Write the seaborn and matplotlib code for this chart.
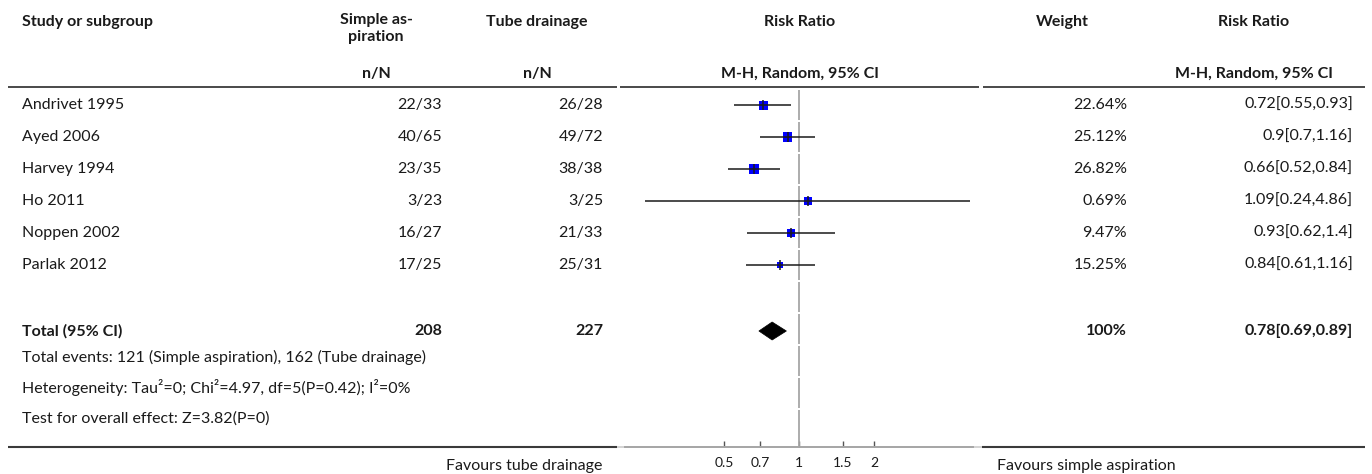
import matplotlib
matplotlib.use("Agg")
import matplotlib.pyplot as plt
from matplotlib.patches import Polygon
from matplotlib.ticker import FixedLocator, FixedFormatter, NullLocator
import pandas as pd
import seaborn as sns

# ---- study data -------------------------------------------------------------
studies = ["Andrivet 1995", "Ayed 2006", "Harvey 1994", "Ho 2011", "Noppen 2002", "Parlak 2012"]
aspiration_events = ["22/33", "40/65", "23/35", "3/23", "16/27", "17/25"]
drainage_events = ["26/28", "49/72", "38/38", "3/25", "21/33", "25/31"]
risk_ratio = [0.72, 0.9, 0.66, 1.09, 0.93, 0.84]
ci_low = [0.55, 0.7, 0.52, 0.24, 0.62, 0.61]
ci_high = [0.93, 1.16, 0.84, 4.86, 1.4, 1.16]
weight_pct = [22.64, 25.12, 26.82, 0.69, 9.47, 15.25]

total_aspiration = 208
total_drainage = 227
total_weight = "100%"
total_rr = 0.78
total_low = 0.69
total_high = 0.89

footer_lines = [
    "Total events: 121 (Simple aspiration), 162 (Tube drainage)",
    "Heterogeneity: Tau\u00b2=0; Chi\u00b2=4.97, df=5(P=0.42); I\u00b2=0%",
    "Test for overall effect: Z=3.82(P=0)",
]
tick_values = [0.5, 0.7, 1, 1.5, 2]
tick_labels = ["0.5", "0.7", "1", "1.5", "2"]
axis_limits = (0.2, 5)
left_label = "Favours tube drainage"
right_label = "Favours simple aspiration"

# ---- style ------------------------------------------------------------------
sns.set_theme(style="white")
plt.rcParams["font.family"] = ["Lato", "DejaVu Sans"]

W, H = 1372, 474
TXT = "#1a1a1a"
RULE = "#3a3a3a"
REF = "#a6a6a6"
FS = 11.5

# marker side lengths (pixels) for the study squares
marker_px = [9, 9.5, 10, 8, 8, 5.5]

# row layout (pixels from top)
first_row, row_step = 105, 32
row_y = [first_row + i * row_step for i in range(len(studies))]
total_y = 331
footer_y = [357, 388, 419]
header_y, subheader_y, rule_y, bottom_y = 22, 74, 87, 447

col_study = 22
col_asp_c, col_asp_r = 376, 442
col_drn_c, col_drn_r = 537, 603
col_plot_c = 800
col_w_c, col_w_r = 1062, 1127
col_rr_c, col_rr_r = 1254, 1353
plot_l, plot_r = 625, 973

fig = plt.figure(figsize=(W / 100, H / 100), dpi=100)
bg = fig.add_axes([0, 0, 1, 1])
bg.set_xlim(0, W)
bg.set_ylim(H, 0)
bg.axis("off")

# ---- header -----------------------------------------------------------------
hdr = dict(fontsize=FS, fontweight="bold", color=TXT, va="center")
bg.text(col_study, header_y, "Study or subgroup", ha="left", **hdr)
bg.text(col_asp_c, header_y - 9, "Simple as-\npiration", ha="center", va="top",
        fontsize=FS, fontweight="bold", color=TXT, linespacing=1.3, multialignment="center")
bg.text(col_drn_c, header_y, "Tube drainage", ha="center", **hdr)
bg.text(col_plot_c, header_y, "Risk Ratio", ha="center", **hdr)
bg.text(col_w_c, header_y, "Weight", ha="center", **hdr)
bg.text(col_rr_c, header_y, "Risk Ratio", ha="center", **hdr)
bg.text(col_asp_c, subheader_y, "n/N", ha="center", **hdr)
bg.text(col_drn_c, subheader_y, "n/N", ha="center", **hdr)
bg.text(col_plot_c, subheader_y, "M-H, Random, 95% CI", ha="center", **hdr)
bg.text(col_rr_c, subheader_y, "M-H, Random, 95% CI", ha="center", **hdr)

# horizontal rules
for x0, x1 in [(8, 617), (620, 979), (983, 1365)]:
    bg.plot([x0, x1], [rule_y, rule_y], color=RULE, lw=1.3, solid_capstyle="butt")
bg.plot([617, 983], [bottom_y, bottom_y], color="#d0d0d0", lw=1.3, solid_capstyle="butt")
for x0, x1 in [(8, 617), (982, 1365)]:
    bg.plot([x0, x1], [bottom_y, bottom_y], color=RULE, lw=1.5, solid_capstyle="butt")

# ---- study rows -------------------------------------------------------------
body = dict(fontsize=FS, color=TXT, va="center")
for i, y in enumerate(row_y):
    bg.text(col_study, y, studies[i], ha="left", **body)
    bg.text(col_asp_r, y, aspiration_events[i], ha="right", **body)
    bg.text(col_drn_r, y, drainage_events[i], ha="right", **body)
    bg.text(col_w_r, y, f"{weight_pct[i]}%", ha="right", **body)
    bg.text(col_rr_r, y, f"{risk_ratio[i]}[{ci_low[i]},{ci_high[i]}]", ha="right", **body)

bold = dict(fontsize=FS, color=TXT, va="center", fontweight="bold")
bg.text(col_study, total_y, "Total (95% CI)", ha="left", **bold)
bg.text(col_asp_r, total_y, str(total_aspiration), ha="right", **bold)
bg.text(col_drn_r, total_y, str(total_drainage), ha="right", **bold)
bg.text(col_w_r, total_y, total_weight, ha="right", **bold)
bg.text(col_rr_r, total_y, f"{total_rr}[{total_low},{total_high}]", ha="right", **bold)

for y, line in zip(footer_y, footer_lines):
    bg.text(col_study, y, line, ha="left", **body)

bg.text(602, 466, left_label, ha="right", **body)
bg.text(997, 466, right_label, ha="left", **body)

# ---- forest panel -----------------------------------------------------------
forest = fig.add_axes([plot_l / W, (H - bottom_y) / H, (plot_r - plot_l) / W, (bottom_y - rule_y - 1) / H])
forest.patch.set_alpha(0)
forest.set_xscale("log")
forest.set_xlim(*axis_limits)
forest.set_ylim(bottom_y, rule_y + 1)

# line of no effect, broken at each row boundary
bounds = [first_row - row_step // 2 + k * row_step for k in range(11)] + [bottom_y]
bounds[0] = rule_y + 2
for a, b in zip(bounds[:-1], bounds[1:]):
    forest.vlines(1, a + 1, b - 1, color=REF, lw=1.3, zorder=1)

df = pd.DataFrame({"study": studies, "rr": risk_ratio, "y": row_y,
                   "area": [(p * 0.72) ** 2 for p in marker_px]})
sns.scatterplot(data=df, x="rr", y="y", size="area", sizes={a: a for a in df["area"]},
                marker="s", color="#0000ff", linewidth=0, legend=False, ax=forest, zorder=2,
                clip_on=False)
forest.hlines(row_y, ci_low, ci_high, color=TXT, lw=1.1, zorder=3)
forest.vlines(risk_ratio, [y - 5 for y in row_y], [y + 5 for y in row_y],
              color=TXT, lw=1.1, zorder=3)

diamond = Polygon([(total_low, total_y), (total_rr, total_y - 9),
                   (total_high, total_y), (total_rr, total_y + 9)],
                  closed=True, facecolor="black", edgecolor="black", lw=0.5, zorder=3)
forest.add_patch(diamond)

for side in ["left", "right", "top"]:
    forest.spines[side].set_visible(False)
forest.spines["bottom"].set_color(REF)
forest.spines["bottom"].set_linewidth(1.4)
forest.xaxis.set_major_locator(FixedLocator(tick_values))
forest.xaxis.set_major_formatter(FixedFormatter(tick_labels))
forest.xaxis.set_minor_locator(NullLocator())
forest.tick_params(axis="x", direction="in", length=4, width=1, color="#555555",
                   pad=7, labelsize=10, labelcolor=TXT, bottom=True)
forest.set_yticks([])
forest.set_xlabel("")
forest.set_ylabel("")

fig.savefig("out.png", dpi=100)
